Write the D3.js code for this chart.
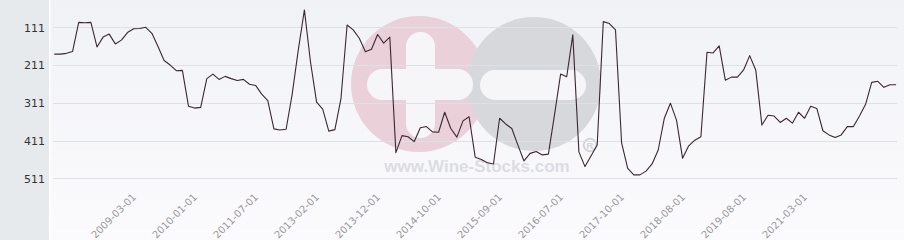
<!DOCTYPE html>
<html>
<head>
<meta charset="utf-8">
<script src="https://cdn.jsdelivr.net/npm/d3@7"></script>
<style>
  html, body { margin: 0; padding: 0; background: #ffffff; }
  svg { display: block; }
</style>
</head>
<body>
<svg id="chart" width="904" height="240"></svg>
<script>
// ---- data (rank values, lower is better; y axis reversed) ----
const rankValues = [
  182, 182, 180, 175, 98, 99, 98, 163, 137, 129,
  155, 145, 125, 115, 114, 111, 127, 162, 199, 211,
  226, 225, 320, 325, 323, 247, 235, 249, 241, 247,
  252, 249, 262, 265, 288, 305, 380, 383, 381, 288,
  171, 65, 203, 309, 328, 386, 382, 299, 105, 118,
  140, 176, 169, 130, 153, 137, 443, 398, 401, 414,
  377, 374, 388, 389, 336, 379, 402, 359, 348, 455,
  461, 470, 473, 352, 367, 379, 423, 465, 445, 440,
  449, 447, 343, 235, 242, 131, 441, 480, 451, 423,
  96, 101, 118, 417, 485, 502, 502, 492, 473, 436,
  352, 312, 357, 458, 425, 410, 401, 177, 179, 160,
  251, 243, 243, 224, 186, 225, 370, 344, 346, 363,
  352, 365, 336, 352, 320, 326, 385, 396, 403, 396,
  374, 374, 346, 315, 257, 254, 270, 263, 263
];
const tickLabels = [
  "2009-03-01", "2010-01-01", "2011-07-01", "2013-02-01", "2013-12-01", "2014-10-01",
  "2015-09-01", "2016-07-01", "2017-10-01", "2018-08-01", "2019-08-01", "2021-03-01"
];
const tickPointIndex = [14, 24, 34, 44, 54, 64, 74, 84, 94, 104, 114, 124];
const yTicks = [111, 211, 311, 411, 511];

// ---- layout ----
const W = 904, H = 240;
const plotLeft = 54.3, plotRight = 896.1;
const svg = d3.select("#chart");

const defs = svg.append("defs");
const grad = defs.append("linearGradient").attr("id", "bg").attr("x1", 0).attr("y1", 0).attr("x2", 0).attr("y2", 1);
grad.append("stop").attr("offset", "0%").attr("stop-color", "#f1f2f6");
grad.append("stop").attr("offset", "100%").attr("stop-color", "#fbfbfd");

// backgrounds
svg.append("rect").attr("x", 0).attr("y", 0).attr("width", 49).attr("height", H).attr("fill", "#e7eaed");
svg.append("rect").attr("x", 49).attr("y", 0).attr("width", 1.5).attr("height", H).attr("fill", "#ffffff");
svg.append("rect").attr("x", 50.5).attr("y", 0).attr("width", W - 50.5).attr("height", H).attr("fill", "url(#bg)");

// scales
const x = d3.scalePoint().domain(d3.range(rankValues.length)).range([plotLeft, plotRight]);
const y = d3.scaleLinear().domain([111, 511]).range([27.3, 178.3]);

// watermark (decorative)
const wm = svg.append("g").attr("class", "watermark");
wm.append("circle").attr("cx", 419).attr("cy", 84).attr("r", 68).attr("fill", "#ead0d8");
wm.append("circle").attr("cx", 534).attr("cy", 84).attr("r", 67).attr("fill", "#d7d8dc");
// plus
wm.append("rect").attr("x", 406).attr("y", 32).attr("width", 29).attr("height", 106).attr("rx", 14.5).attr("fill", "#f6f6f9");
wm.append("rect").attr("x", 367).attr("y", 69).attr("width", 106).attr("height", 31).attr("rx", 15.5).attr("fill", "#f6f6f9");
// minus
wm.append("rect").attr("x", 480).attr("y", 70).attr("width", 106).attr("height", 30).attr("rx", 15).attr("fill", "#f6f6f9");
wm.append("text").attr("x", 477).attr("y", 172).attr("text-anchor", "middle")
  .attr("font-family", "'Liberation Sans', Arial, sans-serif").attr("font-weight", "bold")
  .attr("font-size", 17).attr("fill", "#dcdde2").text("www.Wine-Stocks.com");
// registered mark
wm.append("circle").attr("cx", 590).attr("cy", 145).attr("r", 6.3)
  .attr("fill", "none").attr("stroke", "#d2d3d8").attr("stroke-width", 1.8);
wm.append("text").attr("x", 590).attr("y", 148.5).attr("text-anchor", "middle")
  .attr("font-family", "'Liberation Sans', Arial, sans-serif").attr("font-weight", "bold")
  .attr("font-size", 9.5).attr("fill", "#d2d3d8").text("R");

// gridlines
svg.append("g").selectAll("line").data(yTicks).join("line")
  .attr("x1", 53.5).attr("x2", 897)
  .attr("y1", d => Math.round(y(d)) + 0.5).attr("y2", d => Math.round(y(d)) + 0.5)
  .attr("stroke", "#dfe0e6").attr("stroke-width", 1);

// y axis labels
const yAxis = d3.axisLeft(y).tickValues(yTicks).tickSize(0).tickPadding(0);
const gy = svg.append("g").attr("transform", "translate(45,0)").call(yAxis);
gy.select(".domain").remove();
gy.selectAll("text").attr("font-family", "'DejaVu Sans', sans-serif").attr("font-size", 11)
  .attr("fill", "#333333").attr("dy", "0.35em");

// x axis labels
const xAxis = d3.axisBottom(x).tickValues(tickPointIndex)
  .tickFormat(d => tickLabels[tickPointIndex.indexOf(d)]).tickSize(0).tickPadding(0);
const gx = svg.append("g").attr("transform", "translate(0,190)").call(xAxis);
gx.select(".domain").remove();
gx.selectAll("text")
  .attr("font-family", "'DejaVu Sans', sans-serif").attr("font-size", 10)
  .attr("fill", "#999999")
  .attr("text-anchor", "end")
  .attr("x", -8).attr("y", 3).attr("dy", 0)
  .attr("transform", "rotate(-45)");

// line
const line = d3.line().x((d, i) => x(i)).y(d => y(d));
svg.append("path").datum(rankValues)
  .attr("d", line).attr("fill", "none")
  .attr("stroke", "#3a2733").attr("stroke-width", 1.1).attr("stroke-linejoin", "round");
</script>
</body>
</html>
